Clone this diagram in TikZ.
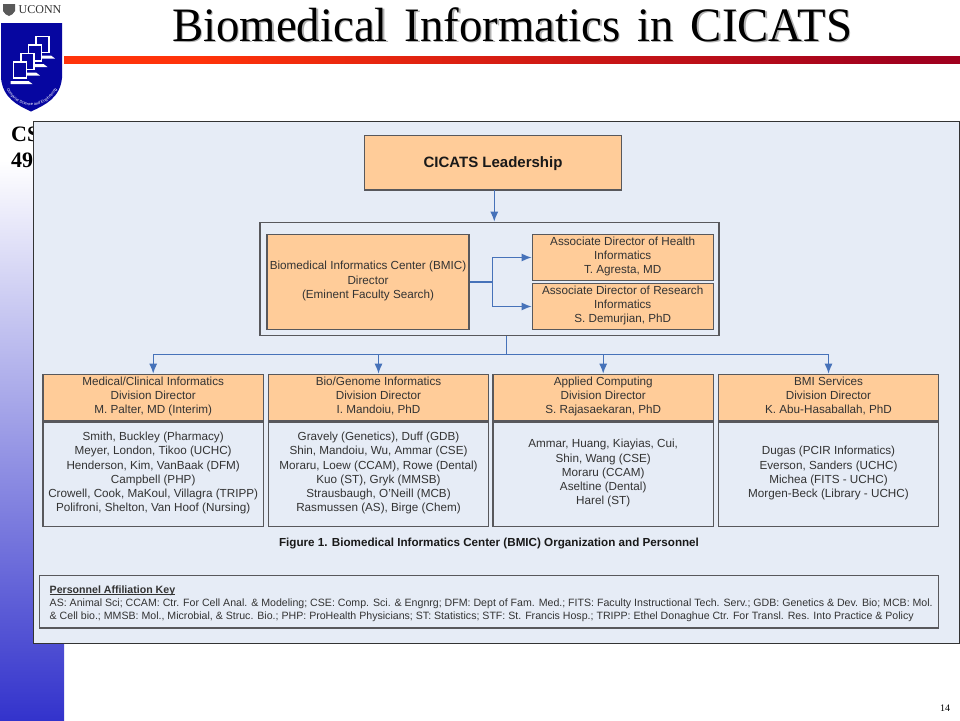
\documentclass[tikz,border=0pt]{standalone}
\usepackage{fontspec}
\setmainfont{Liberation Serif}
\setsansfont{Liberation Sans}
\newfontfamily\titlefont[FakeStretch=0.975,WordSpace=1.45]{Liberation Serif}
\usetikzlibrary{arrows.meta,positioning,calc,decorations.text}
\definecolor{boxorange}{RGB}{255,204,153}
\definecolor{panelblue}{RGB}{230,236,246}
\definecolor{linkblue}{RGB}{70,114,185}
\definecolor{edgegray}{RGB}{88,88,92}
\definecolor{sidebarblue}{RGB}{51,51,204}
\definecolor{barred}{RGB}{255,51,10}
\definecolor{bardark}{RGB}{160,0,30}
\definecolor{shieldblue}{RGB}{6,6,160}
\newcommand{\topstrut}{\rule{0pt}{14pt}}
\newcommand{\botstrut}{\rule[-4.3pt]{0pt}{4.3pt}}
\tikzset{
  orgbox/.style={draw=edgegray,line width=1.1pt,fill=boxorange,inner sep=0pt,align=center,font=\sffamily\fontsize{11.7}{14.2}\selectfont,text=black!80,execute at begin node=\topstrut,execute at end node=\botstrut},
  namebox/.style={orgbox,fill=panelblue},
  link/.style={draw=linkblue,line width=1.3pt},
  linkarrow/.style={link,-{Latex[length=10pt,width=8pt]}},
  titletext/.style={font=\titlefont\fontsize{48}{50}\selectfont},
}
\begin{document}
\begin{tikzpicture}[x=1pt,y=-1pt]
\useasboundingbox (0,0) rectangle (960,720);
% slide background
\fill[white] (0,0) rectangle (960,720);
\shade[top color=white,bottom color=sidebarblue] (0,160) rectangle (64,720);
\fill[barred] (64,56) rectangle (200,63.5);
\shade[left color=barred,right color=bardark] (199.5,56) rectangle (906,63.5);
\fill[bardark] (905.5,56) rectangle (960,63.5);
\node[titletext,text=black!30] at (513.5,25.5) {Biomedical Informatics in CICATS};
\node (title) [titletext] at (512,24.5) {Biomedical Informatics in CICATS};
\node (course) [font=\bfseries\fontsize{22}{26}\selectfont,anchor=north west,align=left,inner sep=0pt] at (11,127) {CSE\\4940};
\node (pagenum) [font=\fontsize{10}{12}\selectfont] at (945,708) {14};
% logo
\fill[black!65] (3,4) -- (15,4) -- (15,11) .. controls (14,14) and (11,15) .. (9,16) .. controls (7,15) and (4,14) .. (3,11) -- cycle;
\node (uconn) [font=\fontsize{12}{14}\selectfont,text=black!80,anchor=west,inner sep=0pt] at (18.5,9.5) {UCONN};
\fill[shieldblue] (1,23) -- (62,23) -- (62,78) .. controls (60,98) and (45,105) .. (31,111.5) .. controls (17,105) and (3,98) .. (1,78) -- cycle;
\foreach \px/\py in {36/36.5,28.5/45,21/53.5,13.5/62}{
  \fill[white] (\px-3,\py+19) -- (\px+15,\py+19) -- (\px+19,\py+22) -- (\px-3,\py+22) -- cycle;
  \draw[white,line width=1.6pt,fill=shieldblue] (\px,\py) rectangle ++(13,16);
}
\path[decorate,decoration={text along path,text align=center,text={|\sffamily\fontsize{4}{5}\selectfont\color{white}|Computer Science and Engineering}}]
  (3,77) .. controls (8,115) and (54,115) .. (61,77);
% main panel
\node (panel) [draw=black!80,line width=1pt,fill=panelblue,minimum width=926pt,minimum height=522pt,inner sep=0pt] at (496,382) {};
\node (lead) [orgbox,minimum width=257pt,minimum height=54.5pt,font=\sffamily\bfseries\fontsize{15}{17}\selectfont,text=black!90] at (493,162.7) {CICATS Leadership};
\node (group) [draw=edgegray,line width=1.1pt,minimum width=459pt,minimum height=113.5pt,inner sep=0pt] at (489.5,279) {};
\node (bmic) [orgbox,minimum width=202pt,minimum height=95pt] at (368,282) {Biomedical Informatics Center (BMIC)\\Director\\(Eminent Faculty Search)};
\node (health) [orgbox,minimum width=181pt,minimum height=46pt] at (622.7,257.5) {Associate Director of Health\\Informatics\\T. Agresta, MD};
\node (research) [orgbox,minimum width=181pt,minimum height=46pt] at (622.7,306.5) {Associate Director of Research\\Informatics\\S. Demurjian, PhD};
\node (clinical) [orgbox,minimum width=220.5pt,minimum height=46.5pt] at (153.2,397.5) {Medical/Clinical Informatics\\Division Director\\M. Palter, MD (Interim)};
\node (genome) [orgbox,minimum width=220.5pt,minimum height=46.5pt] at (378.5,397.5) {Bio/Genome Informatics\\Division Director\\I. Mandoiu, PhD};
\node (applied) [orgbox,minimum width=220.5pt,minimum height=46.5pt] at (603.2,397.5) {Applied Computing\\Division Director\\S. Rajasaekaran, PhD};
\node (services) [orgbox,minimum width=220.5pt,minimum height=46.5pt] at (828.5,397.5) {BMI Services\\Division Director\\K. Abu-Hasaballah, PhD};
\node (clinicalstaff) [namebox,minimum width=220.5pt,minimum height=104.5pt] at (153.2,474.2) {Smith, Buckley (Pharmacy)\\Meyer, London, Tikoo (UCHC)\\Henderson, Kim, VanBaak (DFM)\\Campbell (PHP)\\Crowell, Cook, MaKoul, Villagra (TRIPP)\\Polifroni, Shelton, Van Hoof (Nursing)};
\node (genomestaff) [namebox,minimum width=220.5pt,minimum height=104.5pt] at (378.5,474.2) {Gravely (Genetics), Duff (GDB)\\Shin, Mandoiu, Wu, Ammar (CSE)\\Moraru, Loew (CCAM), Rowe (Dental)\\Kuo (ST), Gryk (MMSB)\\Strausbaugh, O'Neill (MCB)\\Rasmussen (AS), Birge (Chem)};
\node (appliedstaff) [namebox,minimum width=220.5pt,minimum height=104.5pt] at (603.2,474.2) {Ammar, Huang, Kiayias, Cui,\\Shin, Wang (CSE)\\Moraru (CCAM)\\Aseltine (Dental)\\Harel (ST)};
\node (servicesstaff) [namebox,minimum width=220.5pt,minimum height=104.5pt] at (828.5,474.2) {Dugas (PCIR Informatics)\\Everson, Sanders (UCHC)\\Michea (FITS - UCHC)\\Morgen-Beck (Library - UCHC)};
\node (caption) [font=\sffamily\bfseries\fontsize{11.65}{13}\selectfont,text=black!90] at (489,544) {Figure 1. Biomedical Informatics Center (BMIC) Organization and Personnel};
\node (key) [draw=edgegray,line width=1.3pt,minimum width=899pt,minimum height=52.5pt,inner sep=0pt] at (489.3,601.8) {};
\node (keytext) [anchor=north west,inner sep=0pt,align=left,font=\sffamily\fontsize{10.6}{13.3}\selectfont,text=black!80] at (49.5,593) {\underline{\smash{\textbf{Personnel Affiliation Key}}}\\AS: Animal Sci; CCAM: Ctr. For Cell Anal. \& Modeling; CSE: Comp. Sci. \& Engnrg; DFM: Dept of Fam. Med.; FITS: Faculty Instructional Tech. Serv.; GDB: Genetics \& Dev. Bio; MCB: Mol.\\\& Cell bio.; MMSB: Mol., Microbial, \& Struc. Bio.; PHP: ProHealth Physicians; ST: Statistics; STF: St. Francis Hosp.; TRIPP: Ethel Donaghue Ctr. For Transl. Res. Into Practice \& Policy};
% connectors
\coordinate (drop) at (494.3,190);
\coordinate (fork) at (492.5,282);
\coordinate (bus) at (506.5,354.3);
\draw[linkarrow] (drop) -- (drop |- group.north);
\draw[link] (bmic.east) -- (fork);
\draw[linkarrow] (fork) |- (health.west);
\draw[linkarrow] (fork) |- (research.west);
\draw[link] (group.south -| bus) -- (bus);
\draw[linkarrow] (bus) -| (clinical.north);
\draw[linkarrow] (bus) -| (genome.north);
\draw[linkarrow] (bus) -| (applied.north);
\draw[linkarrow] (bus) -| (services.north);
\end{tikzpicture}
\end{document}
